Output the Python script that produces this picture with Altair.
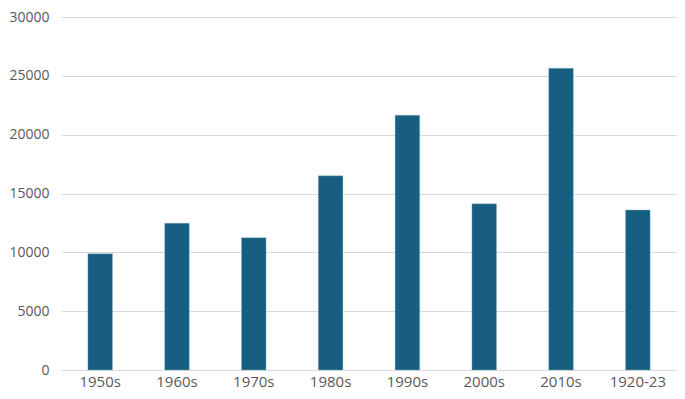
import altair as alt
import pandas as pd

categories = ["1950s", "1960s", "1970s", "1980s", "1990s", "2000s", "2010s", "1920-23"]
values = [9880, 12480, 11240, 16500, 21650, 14120, 25640, 13600]
y_ticks = [0, 5000, 10000, 15000, 20000, 25000, 30000]

df = pd.DataFrame({"period": categories, "count": values})

FONT = "Open Sans"
TEXT = "#595959"

chart = (
    alt.Chart(df)
    .mark_bar(color="#175E80", stroke="#8FB3C6", strokeWidth=0.6, strokeOpacity=0.6)
    .encode(
        x=alt.X(
            "period:N",
            sort=categories,
            title=None,
            scale=alt.Scale(paddingInner=0.68, paddingOuter=0.35),
            axis=alt.Axis(
                labelAngle=0,
                ticks=False,
                domain=False,
                labelFont=FONT,
                labelFontSize=15,
                labelColor=TEXT,
                labelPadding=4,
                grid=False,
            ),
        ),
        y=alt.Y(
            "count:Q",
            title=None,
            scale=alt.Scale(domain=[0, 30000], nice=False),
            axis=alt.Axis(
                values=y_ticks,
                format="d",
                ticks=False,
                domain=False,
                labelFont=FONT,
                labelFontSize=14,
                labelColor=TEXT,
                labelPadding=12,
                gridColor="#D9D9D9",
                gridWidth=1.2,
            ),
        ),
    )
    .properties(
        width=616,
        height=353,
        autosize=alt.AutoSizeParams(type="none"),
        padding={"left": 53, "top": 9, "right": 0, "bottom": 25},
    )
    .configure_view(stroke=None)
)

chart.save("out.html", embed_options={"renderer": "svg", "actions": False})
